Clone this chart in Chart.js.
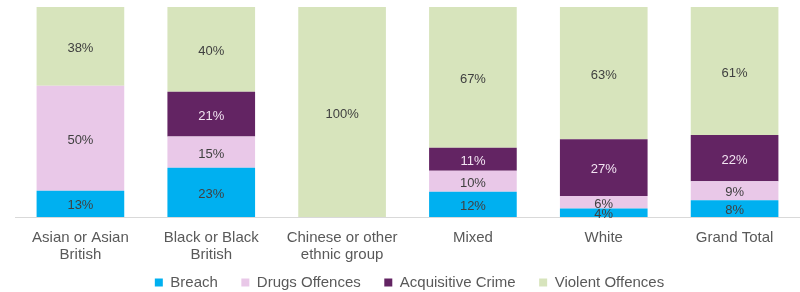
<!DOCTYPE html>
<html>
<head>
<meta charset="utf-8">
<script src="https://cdn.jsdelivr.net/npm/chart.js@4"></script>
<style>
  html, body { margin: 0; padding: 0; background: #fff; }
  #wrap { width: 800px; height: 292px; }
</style>
</head>
<body>
<div id="wrap"><canvas id="offences"></canvas></div>
<script>
const categories = [
    ['Asian or Asian', 'British'],
    ['Black or Black', 'British'],
    ['Chinese or other', 'ethnic group'],
    'Mixed',
    'White',
    'Grand Total',
];

// shares in percent, labels are shown rounded
const breach      = [12.5, 23.4, 0, 12, 4, 8];
const drugs       = [50, 14.9, 0, 10, 6, 9];
const acquisitive = [0, 21.3, 0, 11, 27, 22];
const violent     = [37.5, 40.4, 100, 67, 63, 61];

const seriesNames = ['Breach', 'Drugs Offences', 'Acquisitive Crime', 'Violent Offences'];
const seriesColors = ['#00B0F0', '#E9C8E8', '#632463', '#D7E4BC'];
const labelColors = ['#404040', '#404040', '#F2E4F2', '#404040'];

const FONT = '"Liberation Sans", Arial, sans-serif';

const segmentLabels = {
    id: 'segmentLabels',
    afterDatasetsDraw(chart) {
        const ctx = chart.ctx;
        ctx.save();
        ctx.font = '13px ' + FONT;
        ctx.textAlign = 'center';
        ctx.textBaseline = 'middle';
        chart.data.datasets.forEach((ds, i) => {
            const meta = chart.getDatasetMeta(i);
            meta.data.forEach((bar, j) => {
                const v = ds.data[j];
                if (!v) return;
                ctx.fillStyle = labelColors[i];
                ctx.fillText(Math.round(v) + '%', bar.x, (bar.y + bar.base) / 2 + 2);
            });
        });
        ctx.restore();
    }
};

const drawChart = () => {
    const series = [breach, drugs, acquisitive, violent];

    const config = {
        type: 'bar',
        data: {
            labels: categories,
            datasets: series.map((values, i) => ({
                label: seriesNames[i],
                data: values,
                backgroundColor: seriesColors[i],
                borderWidth: 0,
                barPercentage: 0.67,
                categoryPercentage: 1,
            })),
        },
        options: {
            responsive: true,
            maintainAspectRatio: false,
            animation: false,
            layout: {
                padding: { top: 7, left: 15, right: -4, bottom: -8 },
            },
            scales: {
                x: {
                    stacked: true,
                    grid: { display: false, drawTicks: false },
                    border: { color: '#D9D9D9', width: 1 },
                    ticks: {
                        color: '#595959',
                        padding: 12,
                        maxRotation: 0,
                        font: { size: 15, family: FONT, lineHeight: 1.15 },
                    },
                    afterFit(scale) { scale.height = 47; },
                },
                y: {
                    stacked: true,
                    min: 0,
                    max: 100,
                    display: false,
                },
            },
            plugins: {
                legend: {
                    position: 'bottom',
                    labels: {
                        boxWidth: 8,
                        boxHeight: 8,
                        padding: 11,
                        color: '#595959',
                        font: { size: 15, family: FONT },
                        // trailing spaces widen the gap between legend items
                        generateLabels(chart) {
                            const items = Chart.defaults.plugins.legend.labels.generateLabels(chart);
                            items.forEach((it, i) => {
                                if (i < items.length - 1) it.text += '   ';
                            });
                            return items;
                        },
                    },
                },
                tooltip: { enabled: false },
            },
        },
        plugins: [segmentLabels],
    };

    new Chart(document.querySelector('#offences'), config);
};

document.addEventListener('DOMContentLoaded', drawChart);
</script>
</body>
</html>
